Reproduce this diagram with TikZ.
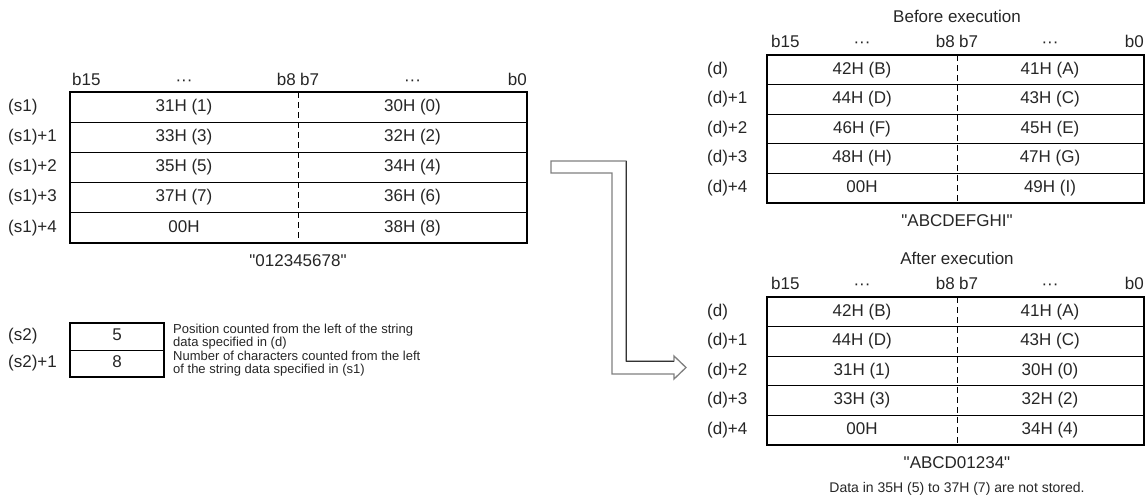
\documentclass[tikz,border=0pt]{standalone}
\usepackage{fontspec}
\setmainfont{Liberation Sans}
\usetikzlibrary{calc}
\begin{document}
\begin{tikzpicture}[x=1pt,y=-1pt,
  txt/.style={font=\fontsize{17}{20}\selectfont, text=black!85, inner sep=0, text height=12pt, text depth=3.5pt},
  smalltxt/.style={font=\fontsize{13}{15}\selectfont, text=black!85, inner sep=0, anchor=west},
  notetxt/.style={font=\fontsize{14}{16}\selectfont, text=black!85, inner sep=0},
  frame/.style={draw, line width=2pt, inner sep=0, outer sep=0, anchor=north west},
  rowline/.style={line width=1pt},
  midline/.style={line width=1pt, dash pattern=on 6pt off 4pt},
  arrowout/.style={draw=black!50, line width=1.3pt, fill=white, line join=miter},
  arrowdark/.style={draw=black!80, line width=1pt}]
\useasboundingbox (0,0) rectangle (1147,501);

% ---------------- left table (s1)
\node[frame, minimum width=457pt, minimum height=151pt] (s1box) at (70,92) {};
\foreach \k in {1,...,4} \draw[rowline] (70,{92+\k*30.2}) -- (527,{92+\k*30.2});
\draw[midline] (298,92) -- (298,243);
\node[txt, anchor=west] (s1h15) at (72,81) {b15};
\node[txt] (s1hd1) at (184,81) {\textperiodcentered\textperiodcentered\textperiodcentered};
\node[txt, anchor=east] (s1h8) at (296,81) {b8};
\node[txt, anchor=west] (s1h7) at (300,81) {b7};
\node[txt] (s1hd2) at (412.5,81) {\textperiodcentered\textperiodcentered\textperiodcentered};
\node[txt, anchor=east] (s1h0) at (527,81) {b0};
\foreach \lab/\hi/\lo [count=\i from 0] in {{(s1)}/{31H (1)}/{30H (0)},{(s1)+1}/{33H (3)}/{32H (2)},{(s1)+2}/{35H (5)}/{34H (4)},{(s1)+3}/{37H (7)}/{36H (6)},{(s1)+4}/{00H}/{38H (8)}} {
  \node[txt, anchor=west] (s1lab\i) at (8,{92+(\i+0.5)*30.2}) {\lab};
  \node[txt] (s1hi\i) at (184,{92+(\i+0.5)*30.2}) {\hi};
  \node[txt] (s1lo\i) at (412.5,{92+(\i+0.5)*30.2}) {\lo};
}
\node[txt] (s1cap) at (298,262) {\textquotedbl 012345678\textquotedbl};

% ---------------- (s2) box
\node[frame, minimum width=94pt, minimum height=54pt] (s2box) at (70,323) {};
\draw[rowline] (70,350) -- (164,350);
\node[txt, anchor=west] (s2lab0) at (8,336.5) {(s2)};
\node[txt, anchor=west] (s2lab1) at (8,363.5) {(s2)+1};
\node[txt] (s2v0) at (117,336.5) {5};
\node[txt] (s2v1) at (117,363.5) {8};
\node[smalltxt, align=left, font=\fontsize{13}{13.5}\selectfont] (s2n0) at (173,336.5) {Position counted from the left of the string\\data specified in (d)};
\node[smalltxt, align=left, font=\fontsize{13}{13.5}\selectfont] (s2n1) at (173,363.5) {Number of characters counted from the left\\of the string data specified in (s1)};

% ---------------- arrow
\path[arrowout] (551,161) -- (626,161) -- (626,361) -- (674,361) -- (674,356) -- (686,367.5) -- (674,379) -- (674,374) -- (612,374) -- (612,173) -- (551,173) -- cycle;
\draw[arrowdark] (626,161) -- (626,361) -- (674,361);

% ---------------- right tables
\foreach \nm/\top/\ttl/\cap [count=\t from 0] in {bef/55/{Before execution}/{\textquotedbl ABCDEFGHI\textquotedbl},aft/297/{After execution}/{\textquotedbl ABCD01234\textquotedbl}} {
  \node[frame, minimum width=377pt, minimum height=148pt] (\nm box) at (767,\top) {};
  \foreach \k in {1,...,4} \draw[rowline] (767,{\top+\k*29.6}) -- (1144,{\top+\k*29.6});
  \draw[midline] (957,\top) -- (957,{\top+148});
  \node[txt] (\nm title) at (957,{\top-37}) {\ttl};
  \node[txt, anchor=west] (\nm h15) at (771,{\top-12}) {b15};
  \node[txt] (\nm hd1) at (862,{\top-12}) {\textperiodcentered\textperiodcentered\textperiodcentered};
  \node[txt, anchor=east] (\nm h8) at (955,{\top-12}) {b8};
  \node[txt, anchor=west] (\nm h7) at (959,{\top-12}) {b7};
  \node[txt] (\nm hd2) at (1050,{\top-12}) {\textperiodcentered\textperiodcentered\textperiodcentered};
  \node[txt, anchor=east] (\nm h0) at (1144,{\top-12}) {b0};
  \node[txt] (\nm cap) at (957,{\top+167}) {\cap};
}
\foreach \lab/\hi/\lo [count=\i from 0] in {{(d)}/{42H (B)}/{41H (A)},{(d)+1}/{44H (D)}/{43H (C)},{(d)+2}/{46H (F)}/{45H (E)},{(d)+3}/{48H (H)}/{47H (G)},{(d)+4}/{00H}/{49H (I)}} {
  \node[txt, anchor=west] (beflab\i) at (707,{55+(\i+0.5)*29.6}) {\lab};
  \node[txt] (befhi\i) at (862,{55+(\i+0.5)*29.6}) {\hi};
  \node[txt] (beflo\i) at (1050,{55+(\i+0.5)*29.6}) {\lo};
}
\foreach \lab/\hi/\lo [count=\i from 0] in {{(d)}/{42H (B)}/{41H (A)},{(d)+1}/{44H (D)}/{43H (C)},{(d)+2}/{31H (1)}/{30H (0)},{(d)+3}/{33H (3)}/{32H (2)},{(d)+4}/{00H}/{34H (4)}} {
  \node[txt, anchor=west] (aftlab\i) at (707,{297+(\i+0.5)*29.6}) {\lab};
  \node[txt] (afthi\i) at (862,{297+(\i+0.5)*29.6}) {\hi};
  \node[txt] (aftlo\i) at (1050,{297+(\i+0.5)*29.6}) {\lo};
}
\node[notetxt] (note) at (957,489) {Data in 35H (5) to 37H (7) are not stored.};
\end{tikzpicture}
\end{document}
